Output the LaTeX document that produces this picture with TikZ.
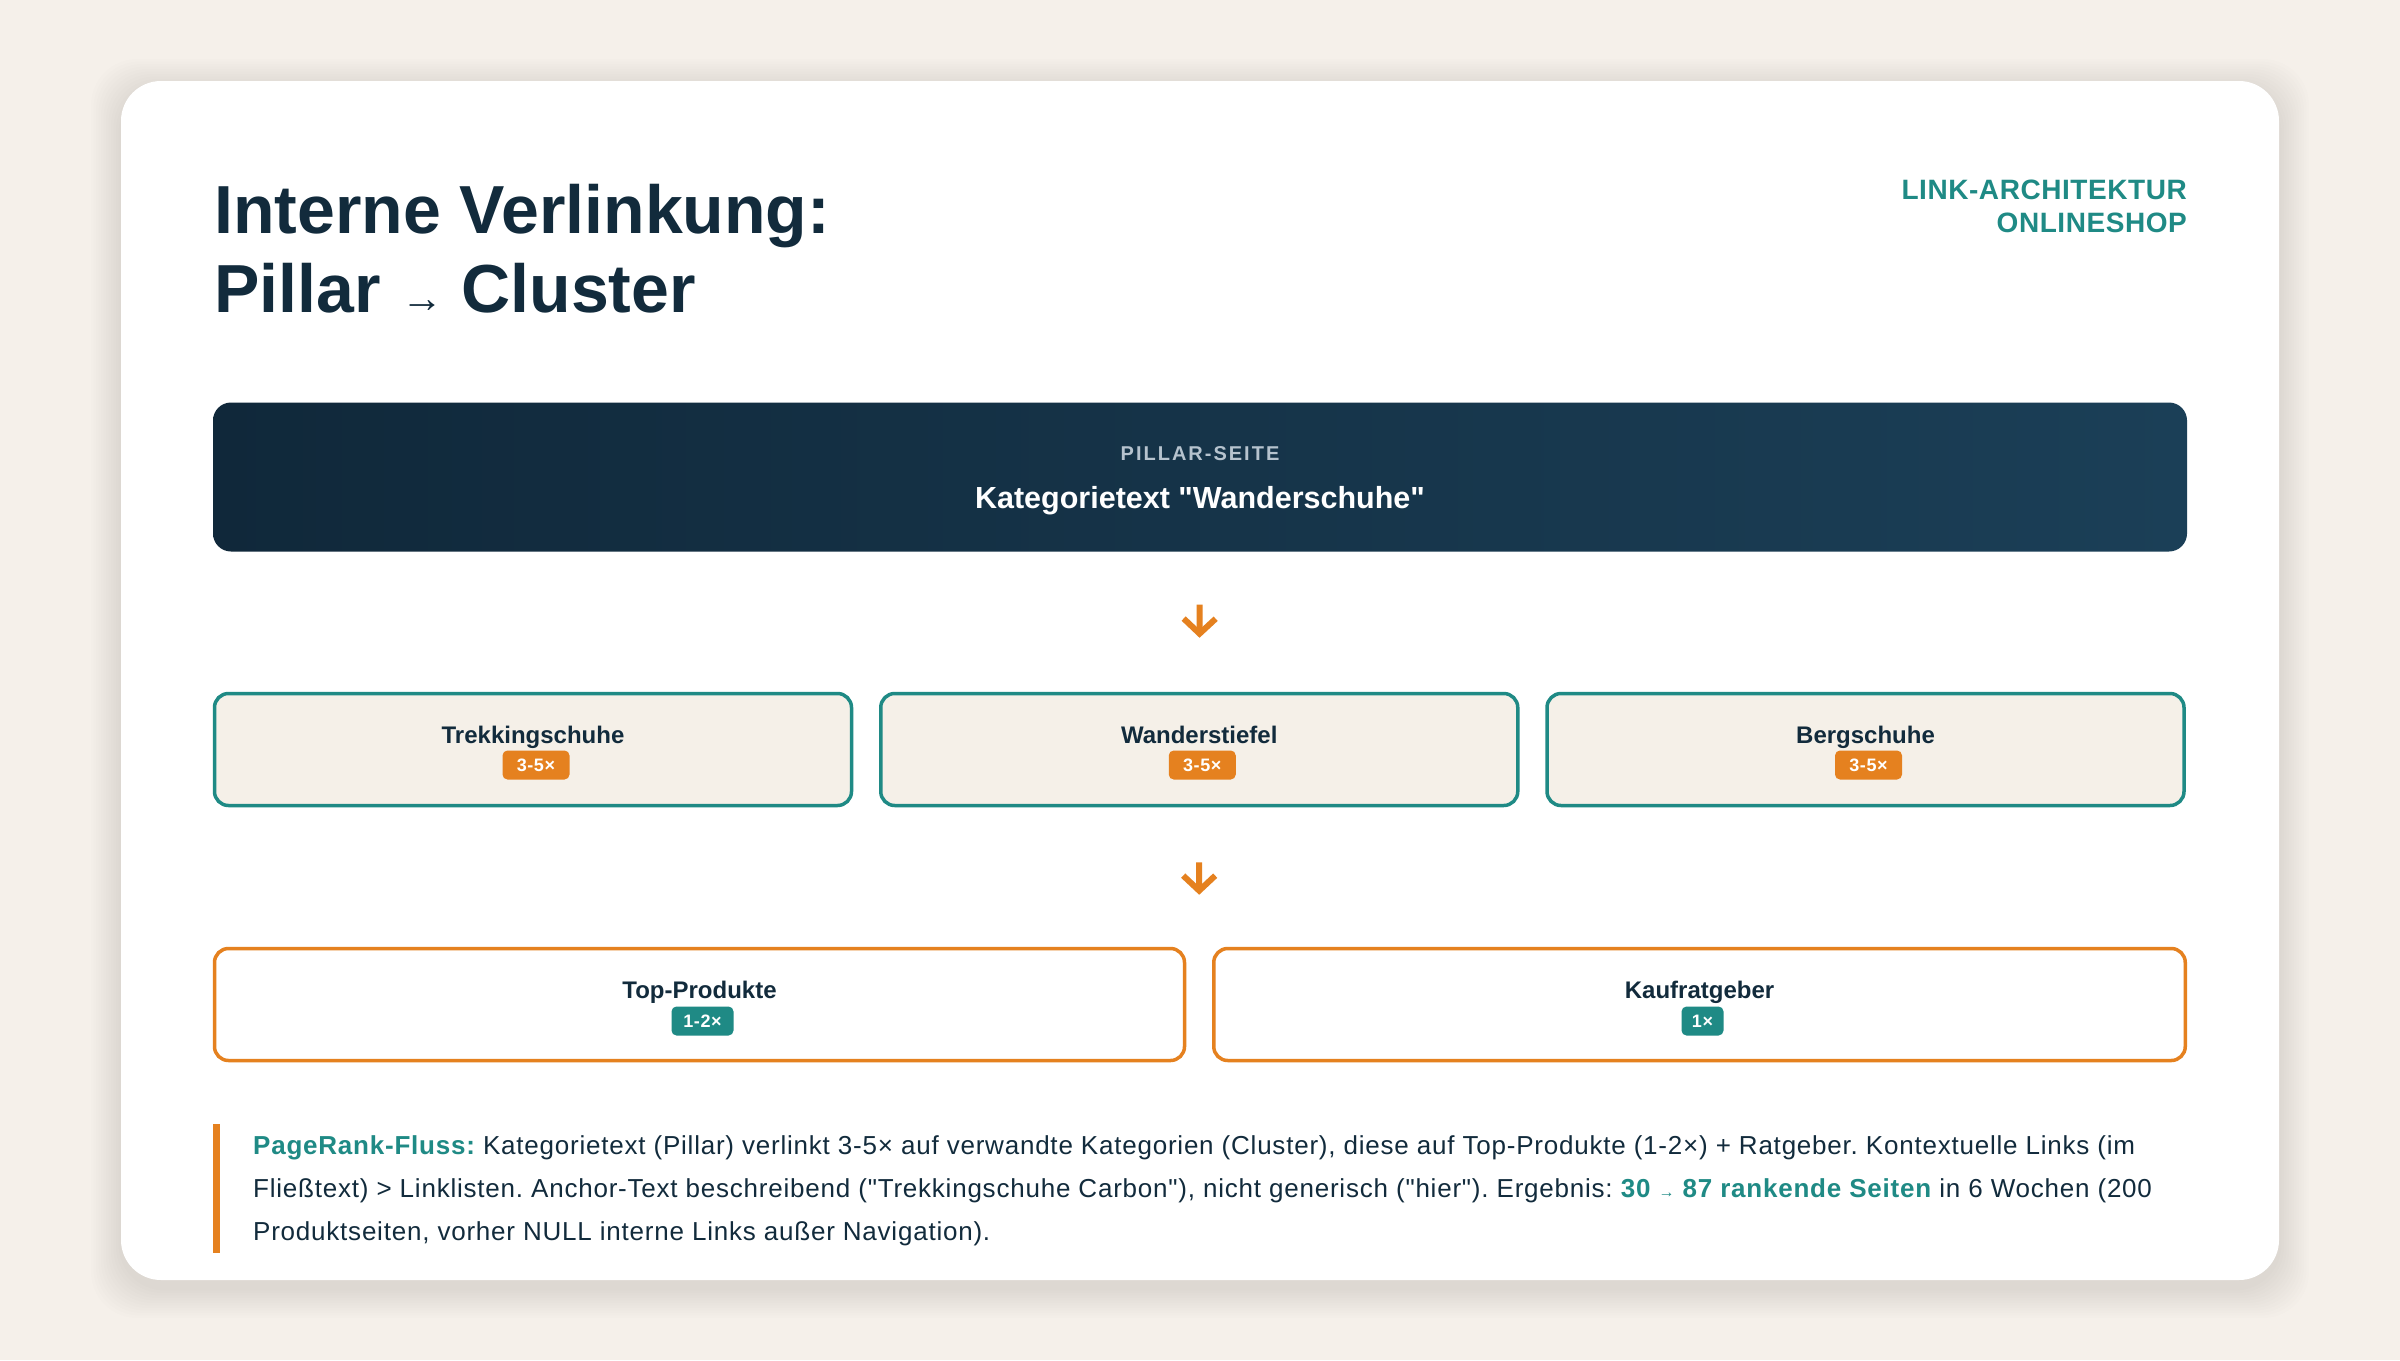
\documentclass[tikz,border=0pt]{standalone}
\usepackage{fontspec}
\setmainfont{Liberation Sans}[Ligatures=TeXOff]
\usetikzlibrary{arrows.meta,positioning,calc}
\frenchspacing

\definecolor{pagebg}{HTML}{F5F0EA}
\definecolor{inknavy}{HTML}{122B3C}
\definecolor{linkteal}{HTML}{1F8A85}
\definecolor{linkorange}{HTML}{E5811F}
\definecolor{clusterfill}{HTML}{F5F0E8}
\definecolor{pillarleft}{HTML}{10283A}
\definecolor{pillarright}{HTML}{1B3F57}
\definecolor{pillarcap}{HTML}{B6C3CE}

\tikzset{
  pillarbox/.style={left color=pillarleft, right color=pillarright, rounded corners=18pt,
    minimum width=1974pt, minimum height=149pt, inner sep=0pt},
  clusterbox/.style={draw=linkteal, line width=3.5pt, fill=clusterfill, rounded corners=14pt,
    minimum width=637pt, minimum height=112pt, inner sep=0pt},
  leafbox/.style={draw=linkorange, line width=3.5pt, fill=white, rounded corners=14pt,
    minimum height=112pt, inner sep=0pt},
  boxlabel/.style={anchor=base, inner sep=0pt, text=inknavy, font=\fontsize{24}{28}\selectfont\bfseries},
  badge/.style={fill=#1, rounded corners=5pt, minimum height=29pt, inner xsep=0pt, inner ysep=0pt,
    text=white, font=\fontsize{18}{20}\selectfont\bfseries\addfontfeature{LetterSpace=3}},
  flow/.style={draw=linkorange, line width=6pt, -{Straight Barb[length=15pt,width=32pt]}},
}

\begin{document}
\begin{tikzpicture}[x=1pt,y=-1pt]
  %% page and card
  \useasboundingbox (0,0) rectangle (2400,1360);
  \fill[pagebg] (0,0) rectangle (2400,1360);
  \foreach \i in {1,...,12}
    \fill[black, opacity=0.006, rounded corners=46pt] (121-\i*2.5, 81-\i*2.5+8) rectangle (2279+\i*2.5, 1280+\i*2.5+8);
  \fill[white, rounded corners=40pt] (121,81) rectangle (2279,1280);

  %% heading
  \node[anchor=north west, inner sep=0pt, align=left, text=inknavy,
        font=\fontsize{68}{79}\selectfont\bfseries] (title) at (214,184)
        {Interne Verlinkung:\\Pillar\hspace{21pt}{\fontsize{42}{42}\selectfont\mdseries →}\hspace{18pt}Cluster};
  \node[anchor=north east, inner sep=0pt, align=right, text=linkteal,
        font=\fontsize{28}{33}\selectfont\bfseries\addfontfeature{LetterSpace=2}] (kicker) at (2187,180)
        {LINK-ARCHITEKTUR\\ONLINESHOP};

  %% pillar
  \node[pillarbox] (pillar) at (1200,477) {};
  \node[anchor=base, inner sep=0pt, text=pillarcap,
        font=\fontsize{20}{24}\selectfont\bfseries\addfontfeature{LetterSpace=10}] (pillarcap)
        at ([yshift=17pt]pillar.center) {PILLAR-SEITE};
  \node[anchor=base, inner sep=0pt, text=white, font=\fontsize{30.5}{34}\selectfont\bfseries] (pillarname)
        at ([yshift=-31pt]pillar.center) {Kategorietext "Wanderschuhe"};

  %% cluster row
  \node[clusterbox] (trek) at (533,749.5) {};
  \node[clusterbox, right=25.75pt of trek] (wander) {};
  \node[clusterbox, right=25.75pt of wander] (berg) {};
  \node[boxlabel] (trekL) at ([yshift=6.5pt]trek.center) {Trekkingschuhe};
  \node[boxlabel] (wanderL) at ([yshift=6.5pt]wander.center) {Wanderstiefel};
  \node[boxlabel] (bergL) at ([yshift=6.5pt]berg.center) {Bergschuhe};
  \node[badge=linkorange, minimum width=67pt] (trekB) at ([xshift=3pt,yshift=-15.5pt]trek.center) {3-5×};
  \node[badge=linkorange, minimum width=67pt] (wanderB) at ([xshift=3pt,yshift=-15.5pt]wander.center) {3-5×};
  \node[badge=linkorange, minimum width=67pt] (bergB) at ([xshift=3pt,yshift=-15.5pt]berg.center) {3-5×};

  %% product row
  \node[leafbox, minimum width=970pt] (topprod) at (699.5,1004.5) {};
  \node[leafbox, minimum width=971.5pt, right=25.75pt of topprod] (ratgeber) {};
  \node[boxlabel] (topprodL) at ([yshift=6.5pt]topprod.center) {Top-Produkte};
  \node[boxlabel] (ratgeberL) at ([yshift=6.5pt]ratgeber.center) {Kaufratgeber};
  \node[badge=linkteal, minimum width=62pt] (topprodB) at ([xshift=3pt,yshift=-16.5pt]topprod.center) {1-2×};
  \node[badge=linkteal, minimum width=42pt] (ratgeberB) at ([xshift=3pt,yshift=-16.5pt]ratgeber.center) {1×};
  \coordinate (rowgap) at ($(topprod.north east)!0.5!(ratgeber.north west)$);

  %% arrows
  \draw[flow, shorten <=53pt, shorten >=54pt] (pillar.south) -- (wander.north);
  \draw[flow, shorten <=55pt, shorten >=52pt] (wander.south) -- (rowgap);

  %% note
  \fill[linkorange] (213,1124) rectangle (220,1253);
  \node[anchor=north west, inner sep=0pt, align=left, text=inknavy,
        font=\fontsize{26}{43}\selectfont\addfontfeature{LetterSpace=3}] (flownote) at (253,1135)
        {{\bfseries\color{linkteal}PageRank-Fluss:} Kategorietext (Pillar) verlinkt 3-5× auf verwandte Kategorien (Cluster), diese auf Top-Produkte (1-2×) + Ratgeber. Kontextuelle Links (im\\
         Fließtext) > Linklisten. Anchor-Text beschreibend ("Trekkingschuhe Carbon"), nicht generisch ("hier"). Ergebnis: {\bfseries\color{linkteal}30 {\fontsize{16}{16}\selectfont\mdseries →} 87 rankende Seiten} in 6 Wochen (200\\
         Produktseiten, vorher NULL interne Links außer Navigation).};
\end{tikzpicture}
\end{document}
